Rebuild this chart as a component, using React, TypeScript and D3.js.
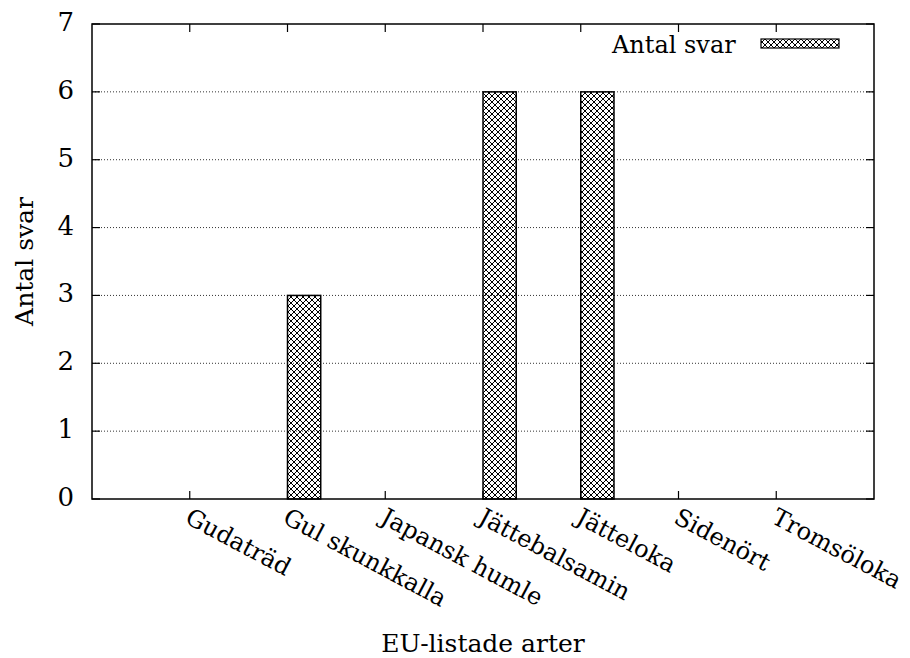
import React from 'react';
import * as d3 from 'd3';

// EU-listade arter och antal svar
const categories = [
  'Gudaträd',
  'Gul skunkkalla',
  'Japansk humle',
  'Jättebalsamin',
  'Jätteloka',
  'Sidenört',
  'Tromsöloka',
];
const antalSvar = [0, 3, 0, 6, 6, 0, 0];
const yTicks = [0, 1, 2, 3, 4, 5, 6, 7];
const seriesName = 'Antal svar';
const yTitle = 'Antal svar';
const xTitle = 'EU-listade arter';

const W = 910;
const H = 658;
const margin = { top: 24, right: 36, bottom: 159, left: 92 };
const serif = { fontFamily: "'DejaVu Serif', serif" };

const App = () => {
  const x = d3.scaleLinear().domain([-1, 7]).range([margin.left, W - margin.right]);
  const y = d3.scaleLinear().domain([0, 7]).range([H - margin.bottom, margin.top]);
  const barW = x(0.34) - x(0);
  const [x0, x1] = x.range();
  const [yb, yt] = y.range();
  const tick = 8;

  return (
    <svg width={W} height={H} style={{ position: 'absolute', left: 0, top: 0, background: '#fff' }}>
      <defs>
        <pattern id="hatch" width={6} height={6} patternUnits="userSpaceOnUse">
          <path d="M0,0L6,6M6,0L0,6" stroke="#000" strokeWidth={1} />
        </pattern>
      </defs>

      {/* grid */}
      {yTicks.filter((t) => t > 0 && t < 7).map((t) => (
        <line key={'g' + t} x1={x0} x2={x1} y1={y(t)} y2={y(t)} stroke="#333" strokeWidth={1} strokeDasharray="1,2" />
      ))}

      {/* bars */}
      {antalSvar.map((v, i) =>
        v > 0 ? (
          <rect key={'b' + i} x={x(i)} y={y(v)} width={barW} height={y(0) - y(v)} fill="url(#hatch)" stroke="#000" strokeWidth={1.5} />
        ) : null
      )}

      {/* y ticks */}
      {yTicks.map((t) => (
        <g key={'y' + t}>
          <line x1={x0} x2={x0 + tick} y1={y(t)} y2={y(t)} stroke="#000" strokeWidth={1.2} />
          <line x1={x1} x2={x1 - tick} y1={y(t)} y2={y(t)} stroke="#000" strokeWidth={1.2} />
          <text x={74} y={y(t) - 2} textAnchor="end" dominantBaseline="central" style={serif} fontSize={26}>
            {t}
          </text>
        </g>
      ))}

      {/* x ticks and labels */}
      {categories.map((c, i) => (
        <g key={'x' + i}>
          <line x1={x(i)} x2={x(i)} y1={yb} y2={yb - tick} stroke="#000" strokeWidth={1.2} />
          <line x1={x(i)} x2={x(i)} y1={yt} y2={yt + tick} stroke="#000" strokeWidth={1.2} />
          <text
            transform={`translate(${x(i) + 2},${yb + 8}) rotate(28)`}
            x={0}
            y={0}
            dy="0.72em"
            style={serif}
            fontSize={24}
          >
            {c}
          </text>
        </g>
      ))}

      {/* border */}
      <rect x={x0} y={yt} width={x1 - x0} height={yb - yt} fill="none" stroke="#000" strokeWidth={1.5} />

      {/* legend */}
      <text x={612} y={53} style={serif} fontSize={24}>
        {seriesName}
      </text>
      <rect x={761} y={39} width={78} height={9} fill="url(#hatch)" stroke="#000" strokeWidth={1.2} />

      {/* axis titles */}
      <text transform={`translate(33,${(yt + yb) / 2}) rotate(-90)`} textAnchor="middle" style={serif} fontSize={25}>
        {yTitle}
      </text>
      <text x={(x0 + x1) / 2} y={652} textAnchor="middle" style={serif} fontSize={25}>
        {xTitle}
      </text>
    </svg>
  );
};

export default App;
